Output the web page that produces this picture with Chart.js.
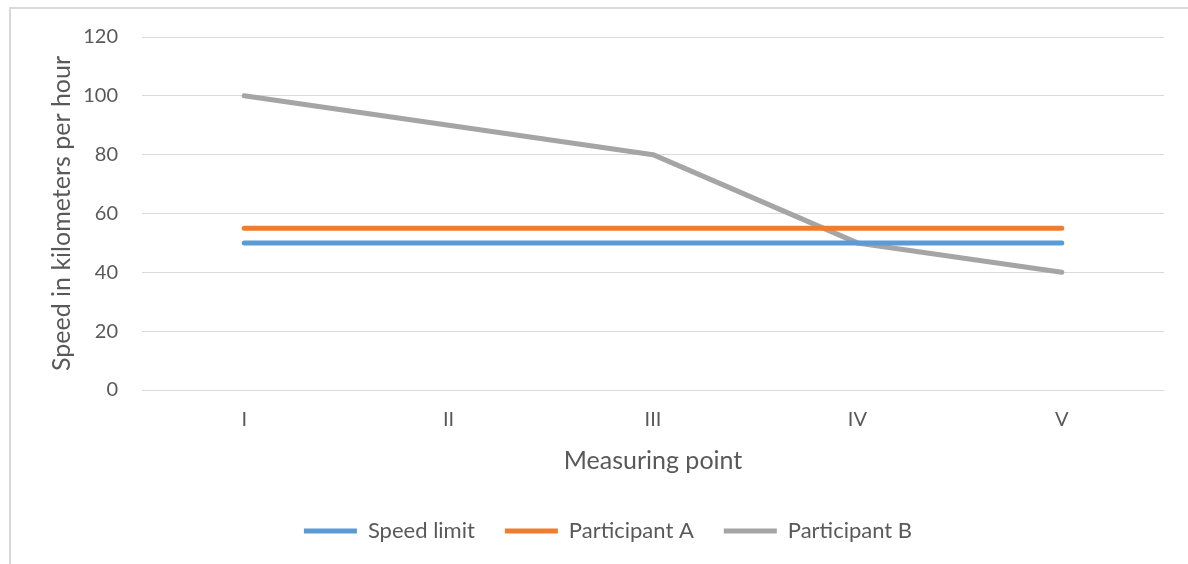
<!DOCTYPE html>
<html>
<head>
<meta charset="utf-8">
<script src="https://cdn.jsdelivr.net/npm/chart.js@4/dist/chart.umd.min.js"></script>
<style>
  html, body { margin: 0; padding: 0; background: #fff; }
  #wrap { width: 1188px; height: 564px; position: relative; }
</style>
</head>
<body>
<div id="wrap"><canvas id="c" width="1188" height="564"></canvas></div>
<script>
// Measuring points along the road
const measuringPoints = ['I', 'II', 'III', 'IV', 'V'];
// Speeds in km/h at each point
const speedLimit = [50, 50, 50, 50, 50];
const participantA = [55, 55, 55, 55, 55];
const participantB = [100, 90, 80, 50, 40];
// Value axis range
const yMin = 0, yMax = 120, yStep = 20;

const TEXT = '#595959';
const FONT = 'Lato, "Open Sans", sans-serif';

// Light frame around the whole chart
const framePlugin = {
  id: 'frame',
  beforeDraw(chart) {
    const ctx = chart.ctx;
    ctx.save();
    ctx.strokeStyle = '#d9d9d9';
    ctx.lineWidth = 2;
    ctx.strokeRect(10, 8, 1400, 800);
    ctx.restore();
  }
};

function series(label, data, color) {
  return {
    label, data,
    borderColor: color,
    backgroundColor: color,
    borderWidth: 5,
    borderCapStyle: 'round',
    borderJoinStyle: 'round',
    pointRadius: 0,
    pointHoverRadius: 0,
    tension: 0,
    fill: false
  };
}

new Chart(document.getElementById('c'), {
  type: 'line',
  data: {
    labels: measuringPoints,
    datasets: [
      series('Speed limit', speedLimit, '#5B9BD5'),
      series('Participant A', participantA, '#ED7D31'),
      series('Participant B', participantB, '#A5A5A5')
    ]
  },
  plugins: [framePlugin],
  options: {
    responsive: false,
    animation: false,
    devicePixelRatio: 1,
    layout: { padding: { left: 52, right: 24, top: 37, bottom: 12 } },
    plugins: {
      tooltip: { enabled: false },
      legend: {
        position: 'bottom',
        labels: {
          usePointStyle: true,
          pointStyle: 'line',
          pointStyleWidth: 53,
          boxHeight: 22,
          padding: 30,
          color: TEXT,
          font: { family: FONT, size: 22 }
        }
      }
    },
    scales: {
      x: {
        offset: true,
        grid: { display: false, drawTicks: false },
        border: { display: false },
        ticks: { color: TEXT, font: { family: FONT, size: 20 }, padding: 18 },
        title: {
          display: true,
          text: 'Measuring point',
          color: TEXT,
          font: { family: FONT, size: 25 },
          padding: { top: 0, bottom: 14 }
        },
        afterFit(s) { s.height = 100; }
      },
      y: {
        min: yMin,
        max: yMax,
        ticks: { stepSize: yStep, color: TEXT, font: { family: FONT, size: 20 }, padding: 24 },
        grid: { color: '#d9d9d9', lineWidth: 1, drawTicks: false },
        border: { display: false },
        title: {
          display: true,
          text: 'Speed in kilometers per hour',
          color: TEXT,
          font: { family: FONT, size: 25, lineHeight: 0.8 },
          padding: { top: 0, bottom: 0 }
        },
        afterFit(s) { s.width = 90; }
      }
    }
  }
});
</script>
</body>
</html>
